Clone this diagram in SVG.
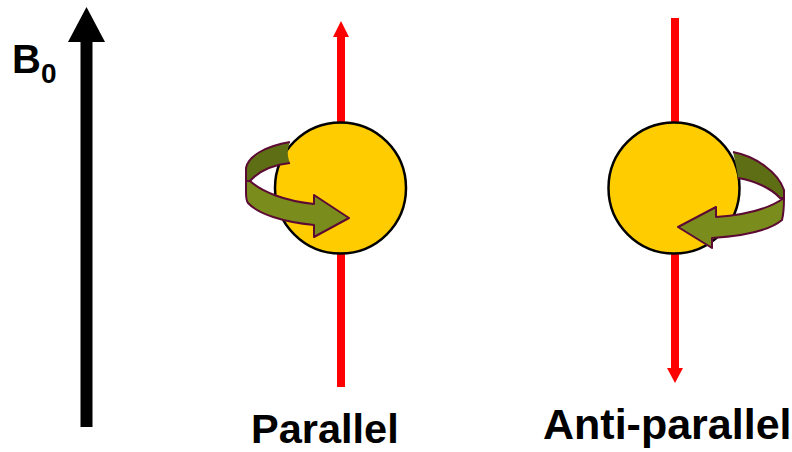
<svg xmlns="http://www.w3.org/2000/svg" width="792" height="452" viewBox="0 0 792 452">
  <style>
    .label { font-family: "Liberation Sans", Arial, sans-serif; font-weight: bold; fill: #000; }
    .spin-axis { fill: #FF0000; }
    .ball { fill: #FFCC00; stroke: #000; stroke-width: 2.5; }
    .band-back { fill: #5E6E15; }
    .band-front { fill: #7A8C1C; stroke: #5C0A33; stroke-width: 2; stroke-linejoin: round; }
    .band-edge { fill: none; stroke: #5C0A33; stroke-width: 2; stroke-linejoin: round; }
  </style>

  <rect width="792" height="452" fill="#FFFFFF"/>

  <!-- external field B0 -->
  <g id="field">
    <rect x="80.5" y="40" width="12" height="387" fill="#000"/>
    <polygon points="68,42 105,42 86.5,7" fill="#000"/>
    <text class="label" x="12" y="73" font-size="40">B</text>
    <text class="label" x="41" y="83" font-size="28">0</text>
  </g>

  <!-- parallel spin -->
  <g id="parallel">
    <rect class="spin-axis" x="337" y="35" width="8" height="352"/>
    <polygon class="spin-axis" points="333,37 349,37 341,21"/>
    <circle class="ball" cx="340.5" cy="188" r="65.5"/>
    <path class="band-back" d="M290,142 C266,146 248,156 246,168 L246,181 L250,181 C258,172 272,165 290,163 C287,156 287,149 290,142 Z"/>
    <path class="band-edge" d="M290,142 C266,146 248,156 246,168 L246,181 L250,181 C258,172 272,165 290,163"/>
    <path class="band-front" d="M246,181 L250,181 C262,192 285,201 314,204 L314,195 L349,218 L314,237 L314,225 C283,222 258,214 248,203 C246,200 246,196 246,193 Z"/>
    <text class="label" x="251" y="443" font-size="41.5">Parallel</text>
  </g>

  <!-- anti-parallel spin -->
  <g id="anti-parallel">
    <rect class="spin-axis" x="671" y="18" width="8" height="352"/>
    <polygon class="spin-axis" points="667,368 683,368 675,383"/>
    <circle class="ball" cx="674" cy="188" r="65.5"/>
    <path class="band-back" d="M733,152 C755,156 778,172 784,190 L784,198 L780,198 C772,189 756,181 738,178 C737,170 735,160 733,152 Z"/>
    <path class="band-edge" d="M733,152 C755,156 778,172 784,190 L784,198 L780,198 C772,189 756,181 738,178"/>
    <path class="band-front" d="M784,198 C770,208 745,215 716,217 L716,207 L678,227 L712,248 L712,238 C745,236 770,230 782,220 C784,212 784,204 784,198 Z"/>
    <text class="label" x="543" y="439" font-size="43">Anti-parallel</text>
  </g>
</svg>
